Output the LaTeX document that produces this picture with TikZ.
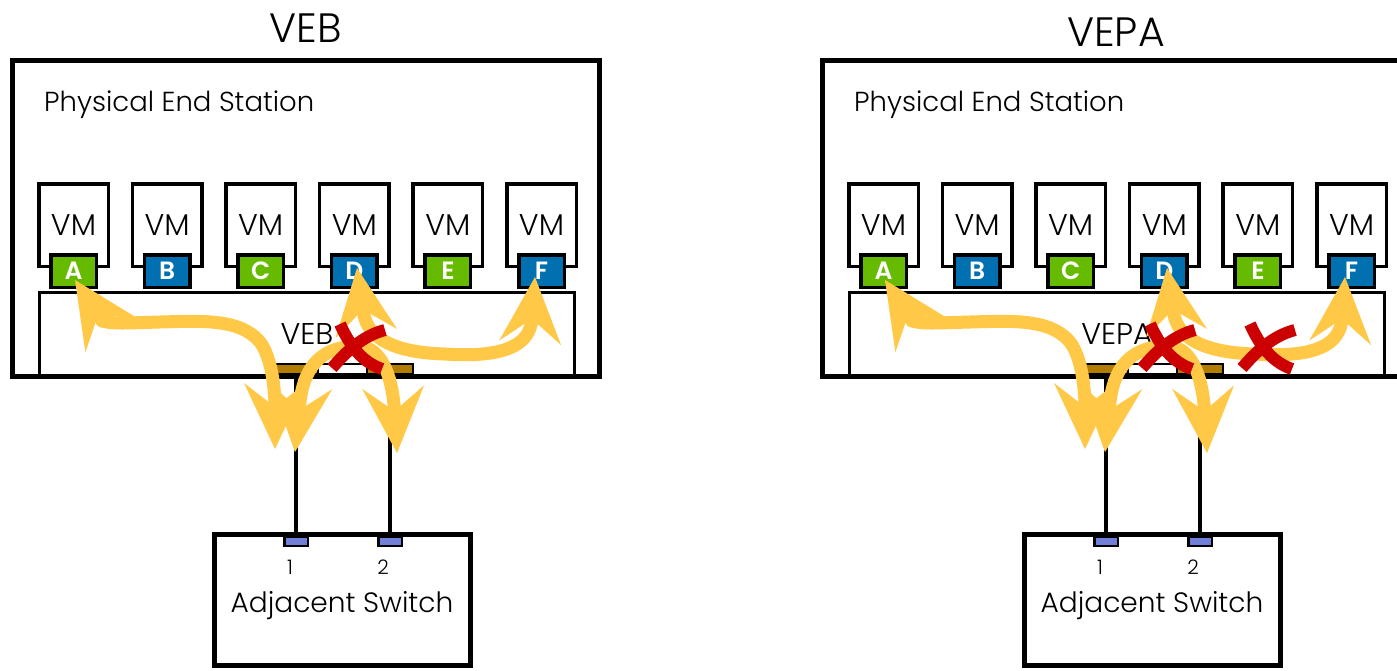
\documentclass[tikz,border=0pt]{standalone}
\usepackage{fontspec}
\setmainfont{Poppins Light}[BoldFont=Poppins SemiBold]
\usetikzlibrary{arrows.meta}
\definecolor{flowc}{RGB}{255,200,70}
\definecolor{portgreen}{RGB}{102,187,0}
\definecolor{portblue}{RGB}{0,112,176}
\definecolor{upbrown}{RGB}{176,125,0}
\definecolor{swportc}{RGB}{112,128,216}
\definecolor{xred}{RGB}{204,0,0}
\newcommand\fsz[1]{\fontsize{#1}{#1}\selectfont}
\tikzset{
  frame/.style={draw=black, line width=5pt},
  vmbox/.style={draw=black, fill=white, line width=3.5pt, minimum width=69.5pt, minimum height=82.5pt, inner sep=0pt, font=\fsz{30}},
  vnic/.style={draw=black, line width=3.5pt, minimum width=45.5pt, minimum height=32.5pt, inner sep=0pt, text=white, font=\fsz{25}\bfseries},
  bridge/.style={draw=black, fill=white, line width=3pt, minimum width=535pt, minimum height=82.5pt, inner sep=0pt, font=\fsz{30}},
  uplink/.style={draw=black, line width=2pt, minimum height=10pt, inner sep=0pt},
  switchbox/.style={draw=black, fill=white, line width=5pt, minimum width=256pt, minimum height=131pt, inner sep=0pt},
  swport/.style={draw=black, fill=swportc, line width=2.5pt, minimum width=23.5pt, minimum height=9.5pt, inner sep=0pt},
  titletext/.style={font=\fsz{41}, inner sep=0pt},
  stationtext/.style={font=\fsz{27.5}, inner sep=0pt},
  swtext/.style={font=\fsz{28}, inner sep=0pt},
  numtext/.style={font=\fsz{20}, inner sep=0pt},
  link/.style={draw=black, line width=3.5pt},
  flow/.style={draw=flowc, line width=13pt, line join=round,
    >={Stealth[length=66pt,width=62pt,inset=24pt,line width=0pt]}, <->},
  xmark/.style={draw=xred, line width=12pt},
}
\newcommand\drawpanel[4]{%
  \foreach \i/\L/\c in {0/A/portgreen,1/B/portblue,2/C/portgreen,3/D/portblue,4/E/portgreen,5/F/portblue}{
    \node[vmbox] (#1vm\L) at ({73.5+93.6*\i},225) {VM};
    \node[vnic, fill=\c] (#1p\L) at ({73.5+93.6*\i},271) {\raisebox{-2.5pt}{\L}};
  }
  \node[bridge] (#1br) at (307,333.75) {#3};
  \node[uplink, fill=upbrown, minimum width=44pt] (#1u1) at (296,369) {};
  \node[uplink, fill=white, minimum width=49pt] (#1um) at (342.5,369) {};
  \node[uplink, fill=upbrown, minimum width=46pt] (#1u2) at (390,369) {};
  \draw[frame] (12.5,60) rectangle (599.5,376);
  \node[titletext, anchor=base] (#1title) at (306,#4) {#2};
  \node[stationtext, anchor=base west] (#1pes) at (44,111) {Physical End Station};
  \node[switchbox] (#1sw) at (342.5,600) {};
  \node[swport] (#1s1) at (296,541) {};
  \node[swport] (#1s2) at (390,541) {};
  \node[numtext, anchor=base] (#1n1) at (290,574) {1};
  \node[numtext, anchor=base] (#1n2) at (383,574) {2};
  \node[swtext, anchor=base] (#1swl) at (342,612) {Adjacent Switch};
  \draw[link] (#1u1.south) -- (#1s1.north);
  \draw[link] (#1u2.south) -- (#1s2.north);
  % arrow ends
  \coordinate (#1tA) at (75,280);
  \coordinate (#1tD) at (357,268);
  \coordinate (#1tF) at (535,277);
  \coordinate (#1d1) at (275,449);
  \coordinate (#1d2) at (295,452);
  \coordinate (#1d3) at (397,453);
  % flows
  \draw[flow] (#1tA) -- (102,321) .. controls (114,324) and (125,323) .. (160,322)
     .. controls (200,321) and (240,318) .. (260,342)
     .. controls (272,358) and (275,390) .. (#1d1);
  \draw[flow] (#1tD) .. controls (365,324) and (372,352) .. (445,354)
     .. controls (505,358) and (530,345) .. (#1tF);
  \draw[flow] (#1d2) .. controls (301,390) and (305,347) .. (357,346)
     .. controls (385,346) and (393,385) .. (#1d3);
  % blocked mark
  \draw[xmark] (340,324) .. controls (350,346) and (362,362) .. (382,369);
  \draw[xmark] (385,330) .. controls (362,336) and (346,352) .. (332,368);
}
\begin{document}
\begin{tikzpicture}[x=1pt, y=-1pt]
  \useasboundingbox (0,0) rectangle (1397,670);
  \clip (0,0) rectangle (1397,670);
  \begin{scope}
    \drawpanel{L}{VEB}{VEB}{42}
  \end{scope}
  \begin{scope}[xshift=810pt]
    \drawpanel{R}{VEPA}{VEPA}{46}
    \draw[xmark] (440,324) .. controls (450,346) and (462,362) .. (482,369);
    \draw[xmark] (485,330) .. controls (462,336) and (446,352) .. (432,368);
  \end{scope}
\end{tikzpicture}
\end{document}
